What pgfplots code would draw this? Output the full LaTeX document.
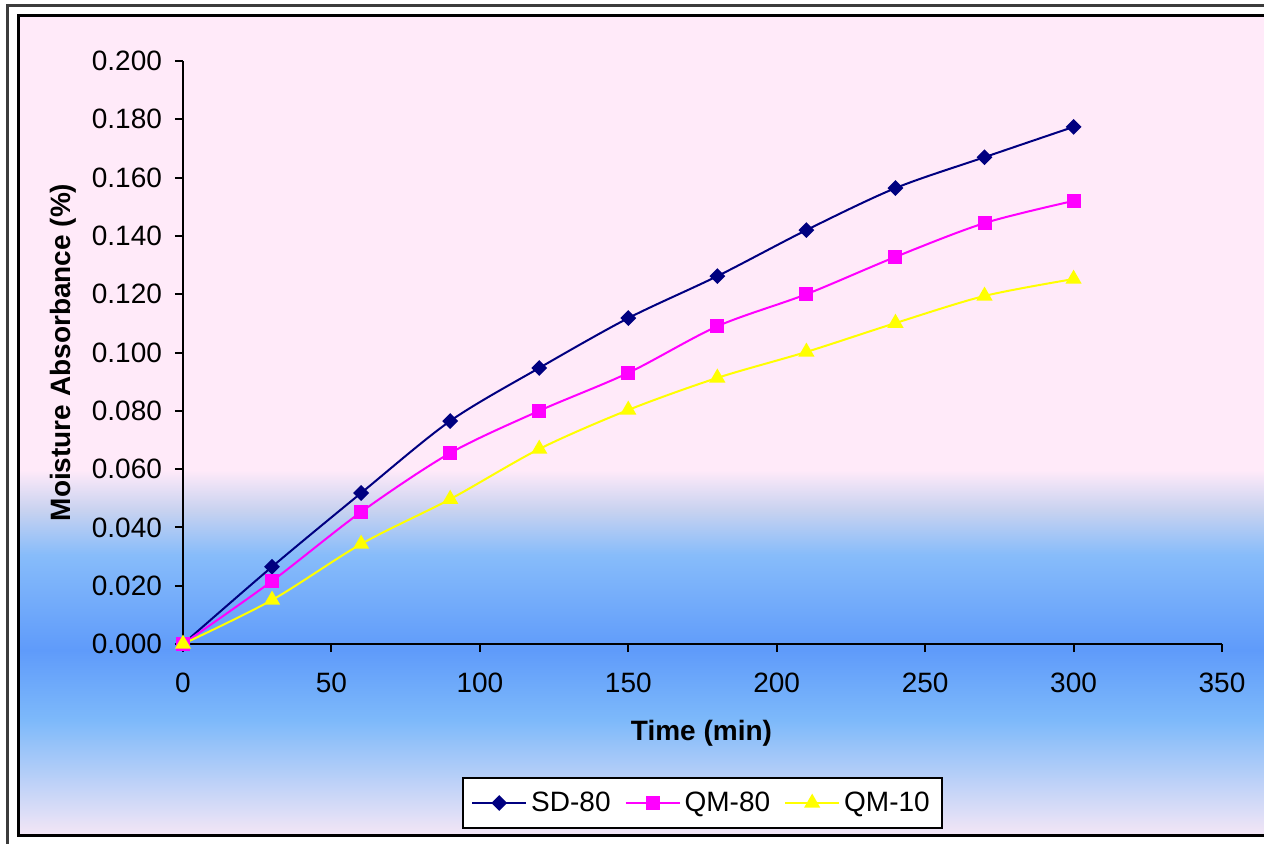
\documentclass[border=0pt]{standalone}
\usepackage{pgfplots}
\pgfplotsset{compat=1.18}
\usepackage{fontspec}
\setmainfont{Liberation Sans}

\definecolor{bgpink}{RGB}{255,234,249}
\definecolor{bgmid}{RGB}{200,210,240}
\definecolor{bglblue}{RGB}{135,188,250}
\definecolor{bgblue}{RGB}{95,155,250}
\definecolor{bgblue2}{RGB}{125,185,250}
\definecolor{bglow}{RGB}{243,230,246}
\definecolor{sdnavy}{RGB}{0,0,128}
\definecolor{qmmag}{RGB}{255,0,255}
\definecolor{qmyel}{RGB}{255,255,0}
\definecolor{framegray}{RGB}{60,60,60}

\pgfplotstableread{
t   sd80   qm80   qm10
0   0.000  0.000  0.000
30  0.0265 0.0216 0.0151
60  0.0518 0.0453 0.0343
90  0.0765 0.0655 0.0497
120 0.0947 0.0800 0.0669
150 0.1118 0.0930 0.0803
180 0.1262 0.1090 0.0913
210 0.1420 0.1200 0.1002
240 0.1564 0.1328 0.1101
270 0.1670 0.1444 0.1194
300 0.1774 0.1520 0.1252
}\datatable

\begin{document}
\begin{tikzpicture}[x=0.5pt,y=0.5pt]
% page, frames and background (pixel units, y measured upward)
\useasboundingbox (0,0) rectangle (1264,843);
\clip (0,0) rectangle (1264,843);
\fill[white] (0,0) rectangle (1264,843);
\draw[framegray, line width=1.5pt] (7,-20) rectangle (1290,837);
\fill[bgpink] (18,843-470) rectangle (1290,843-16);
\shade[top color=bgpink, bottom color=bgmid] (18,843-510) rectangle (1290,843-470);
\shade[top color=bgmid, bottom color=bglblue] (18,843-555) rectangle (1290,843-510);
\shade[top color=bglblue, bottom color=bgblue] (18,843-650) rectangle (1290,843-555);
\shade[top color=bgblue, bottom color=bgblue2] (18,843-720) rectangle (1290,843-650);
\shade[top color=bgblue2, bottom color=bglow] (18,843-835) rectangle (1290,843-720);
\draw[black, line width=1.5pt] (18,843-835) rectangle (1290,843-16);

\begin{axis}[
  at={(91.5pt,99.5pt)}, anchor=south west,
  width=519.5pt, height=291.5pt, scale only axis,
  xmin=0, xmax=350, ymin=0, ymax=0.2,
  xtick={0,50,...,350},
  ytick={0,0.02,...,0.2},
  axis x line=bottom, axis y line=left,
  axis line style={-, line width=1pt, black},
  tick align=outside, major tick length=4pt,
  tick style={line width=1pt, black},
  /pgf/number format/assume math mode=true,
  yticklabel style={/pgf/number format/fixed, /pgf/number format/fixed zerofill,
    /pgf/number format/precision=3, xshift=-3pt},
  ticklabel style={font=\fontsize{14}{16}\selectfont},
  xticklabel style={yshift=-7pt},
  xlabel={\textbf{Time (min)}},
  ylabel={\textbf{Moisture Absorbance (\%)}},
  label style={font=\fontsize{14}{16}\selectfont},
  xlabel style={at={(axis description cs:0.499,-0.153)}, anchor=center},
  ylabel style={at={(axis description cs:-0.1155,0.5)}, anchor=center},
  legend columns=3,
  legend style={at={(axis description cs:0.5,-0.2727)}, anchor=center,
    draw=black, line width=1pt, fill=white,
    font=\fontsize{14}{16}\selectfont,
    /tikz/every even column/.append style={column sep=5pt},
    inner xsep=4pt, inner ysep=5pt},
  legend image code/.code={
    \draw[mark repeat=2, mark phase=2, #1] plot coordinates {(0pt,0pt) (13.5pt,0pt) (27pt,0pt)};},
  clip=false,
]
\addplot[sdnavy, line width=1pt, smooth, mark=square*, mark size=2.3pt,
  mark options={rotate=45, solid, fill=sdnavy}] table[x=t, y=sd80] {\datatable};
\addlegendentry{SD-80}
\addplot[qmmag, line width=1pt, smooth, mark=square*, mark size=3pt,
  mark options={solid, fill=qmmag}] table[x=t, y=qm80] {\datatable};
\addlegendentry{QM-80}
\addplot[qmyel, line width=1pt, smooth, mark=triangle*, mark size=3.7pt,
  mark options={solid, fill=qmyel}] table[x=t, y=qm10] {\datatable};
\addlegendentry{QM-10}
\end{axis}
\end{tikzpicture}
\end{document}
